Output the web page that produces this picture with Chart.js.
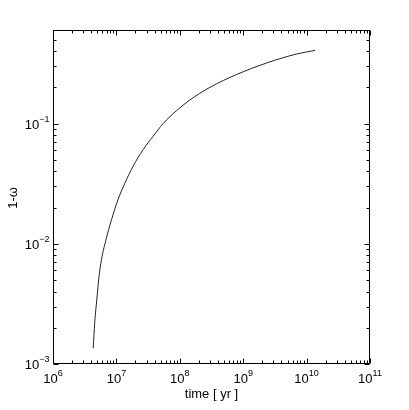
<!DOCTYPE html>
<html>
<head>
<meta charset="utf-8">
<script src="https://cdn.jsdelivr.net/npm/chart.js@4"></script>
<style>
  html, body { margin: 0; padding: 0; background: #fff; }
  #wrap { width: 409px; height: 410px; }
</style>
</head>
<body>
<div id="wrap"><canvas id="omegaChart" width="409" height="410"></canvas></div>
<script>
// Datos
const timeYr = [4.31e6, 4.55e6, 4.95e6, 5.27e6, 5.81e6, 6.97e6, 8.36e6, 1.06e7, 1.36e7, 1.83e7,
    2.64e7, 3.79e7, 5.46e7, 8.88e7, 1.44e8, 2.98e8, 7.87e8, 2.34e9, 6.97e9, 1.36e10];
const oneMinusOmega = [1.35e-3, 2.2e-3, 3.61e-3, 5.11e-3, 7.36e-3, 1.12e-2, 1.58e-2, 2.33e-2, 3.19e-2, 4.41e-2,
    6.07e-2, 7.83e-2, 0.1, 0.128, 0.157, 0.2, 0.256, 0.319, 0.379, 0.406];

// Etiquetas de los ejes (exponentes de 10)
const xTickExps = [6, 7, 8, 9, 10, 11];
const yTickExps = [-3, -2, -1];
const xTitle = 'time [ yr ]';
const yTitle = '1-ω';

const fontFamily = '"Liberation Sans", Arial, Helvetica, sans-serif';

// Dibuja "10^n" con el exponente elevado
function drawPower(ctx, x, y, exp, align) {
    const base = '10';
    const sup = exp < 0 ? '\u2212' + Math.abs(exp) : String(exp);
    ctx.font = '13px ' + fontFamily;
    const wb = ctx.measureText(base).width;
    ctx.font = '9px ' + fontFamily;
    const ws = ctx.measureText(sup).width;
    const total = wb + ws;
    let start = align === 'right' ? x - total : x - total / 2;
    ctx.textAlign = 'left';
    ctx.textBaseline = 'alphabetic';
    ctx.font = '13px ' + fontFamily;
    ctx.fillText(base, start, y);
    ctx.font = '9px ' + fontFamily;
    ctx.fillText(sup, start + wb, y - 7);
}

const frameAxes = {
    id: 'frameAxes',
    afterDraw(chart) {
        const ctx = chart.ctx;
        const xs = chart.scales.x;
        const ys = chart.scales.y;
        const a = chart.chartArea;
        const L = Math.round(a.left) + 0.5, R = Math.round(a.right) - 0.5;
        const T = Math.round(a.top) + 0.5, B = Math.round(a.bottom) - 0.5;

        ctx.save();
        ctx.strokeStyle = '#000';
        ctx.fillStyle = '#000';
        ctx.lineWidth = 1;

        // marco
        ctx.beginPath();
        ctx.rect(L, T, R - L, B - T);
        ctx.stroke();

        // marcas del eje x
        ctx.beginPath();
        for (let i = 0; i < xTickExps.length; i++) {
            const d = xTickExps[i];
            for (let k = 1; k <= 9; k++) {
                const v = k * Math.pow(10, d);
                if (v > xs.max * 1.0001) break;
                const px = Math.round(xs.getPixelForValue(v)) + 0.5;
                const len = k === 1 ? 5 : 3;
                ctx.moveTo(px, B); ctx.lineTo(px, B - len);
                ctx.moveTo(px, T); ctx.lineTo(px, T + len);
            }
        }
        // marcas del eje y
        for (let i = 0; i < yTickExps.length; i++) {
            const d = yTickExps[i];
            for (let k = 1; k <= 9; k++) {
                const v = k * Math.pow(10, d);
                if (v > ys.max * 1.0001) break;
                const py = Math.round(ys.getPixelForValue(v)) + 0.5;
                const len = k === 1 ? 5 : 3;
                ctx.moveTo(L, py); ctx.lineTo(L + len, py);
                ctx.moveTo(R, py); ctx.lineTo(R - len, py);
            }
        }
        ctx.stroke();

        // etiquetas
        xTickExps.forEach(function(d) {
            const px = xs.getPixelForValue(Math.pow(10, d));
            drawPower(ctx, px, B + 19, d, 'center');
        });
        yTickExps.forEach(function(d) {
            const py = ys.getPixelForValue(Math.pow(10, d));
            drawPower(ctx, L - 4, py + 5, d, 'right');
        });

        // títulos
        ctx.font = '13px ' + fontFamily;
        ctx.textAlign = 'center';
        ctx.textBaseline = 'middle';
        ctx.fillText(xTitle, (L + R) / 2, 394);
        ctx.translate(13, 198);
        ctx.rotate(-Math.PI / 2);
        ctx.fillText(yTitle, 0, 0);
        ctx.restore();
    }
};

new Chart(document.getElementById('omegaChart'), {
    type: 'line',
    data: {
        datasets: [{
            data: timeYr.map(function(t, i) { return { x: t, y: oneMinusOmega[i] }; }),
            borderColor: '#222',
            borderWidth: 1,
            pointRadius: 0,
            cubicInterpolationMode: 'monotone',
            fill: false
        }]
    },
    options: {
        responsive: false,
        animation: false,
        events: [],
        layout: { padding: { left: 53, right: 39, top: 30, bottom: 46 } },
        plugins: {
            legend: { display: false },
            tooltip: { enabled: false }
        },
        scales: {
            x: { type: 'logarithmic', min: 1e6, max: 1e11, display: false },
            y: { type: 'logarithmic', min: 1e-3, max: 0.6, display: false }
        }
    },
    plugins: [frameAxes]
});
</script>
</body>
</html>
